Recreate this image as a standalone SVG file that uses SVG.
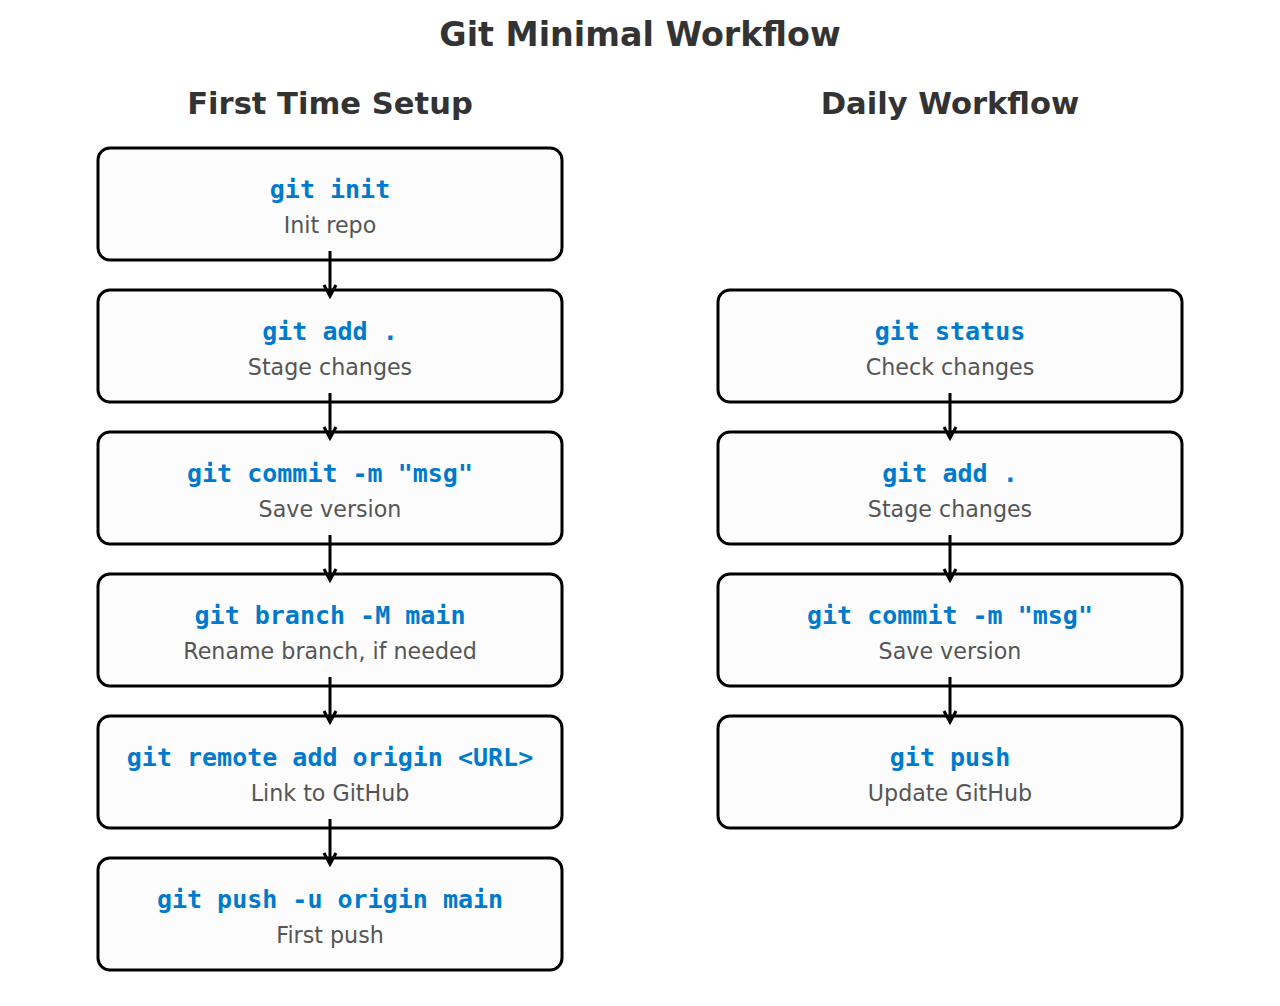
<svg xmlns="http://www.w3.org/2000/svg" width="1280" height="1006" viewBox="0 0 1280 1006">
<style>
.title{font-family:"DejaVu Sans",Verdana,sans-serif;font-weight:bold;fill:#333333;text-anchor:middle}
.box{fill:#fcfcfc;stroke:#000;stroke-width:3}
.cmd{font-family:"DejaVu Sans Mono",monospace;font-weight:bold;font-size:25px;fill:#007acc;text-anchor:middle}
.desc{font-family:"DejaVu Sans",Verdana,sans-serif;font-size:22.2px;fill:#555555;text-anchor:middle}
.arr{stroke:#000;stroke-width:3;fill:none;stroke-linecap:butt}
.head{stroke:#000;stroke-width:3;fill:none;stroke-linejoin:miter}
</style>
<rect width="1280" height="1006" fill="#fff"/>
<text class="title" x="640" y="46" font-size="33.3">Git Minimal Workflow</text>
<text class="title" x="330" y="114" font-size="30.6">First Time Setup</text>
<text class="title" x="950" y="114" font-size="30.6">Daily Workflow</text>
<g id="s1"><rect class="box" x="98" y="148" width="464" height="112" rx="12"/><text class="cmd" x="330" y="198">git init</text><text class="desc" x="330" y="233">Init repo</text></g>
<g id="s2"><rect class="box" x="98" y="290" width="464" height="112" rx="12"/><text class="cmd" x="330" y="340">git add .</text><text class="desc" x="330" y="375">Stage changes</text></g>
<g id="s3"><rect class="box" x="98" y="432" width="464" height="112" rx="12"/><text class="cmd" x="330" y="482">git commit -m "msg"</text><text class="desc" x="330" y="517">Save version</text></g>
<g id="s4"><rect class="box" x="98" y="574" width="464" height="112" rx="12"/><text class="cmd" x="330" y="624">git branch -M main</text><text class="desc" x="330" y="659">Rename branch, if needed</text></g>
<g id="s5"><rect class="box" x="98" y="716" width="464" height="112" rx="12"/><text class="cmd" x="330" y="766">git remote add origin &lt;URL&gt;</text><text class="desc" x="330" y="801">Link to GitHub</text></g>
<g id="s6"><rect class="box" x="98" y="858" width="464" height="112" rx="12"/><text class="cmd" x="330" y="908">git push -u origin main</text><text class="desc" x="330" y="943">First push</text></g>
<g id="d1"><rect class="box" x="718" y="290" width="464" height="112" rx="12"/><text class="cmd" x="950" y="340">git status</text><text class="desc" x="950" y="375">Check changes</text></g>
<g id="d2"><rect class="box" x="718" y="432" width="464" height="112" rx="12"/><text class="cmd" x="950" y="482">git add .</text><text class="desc" x="950" y="517">Stage changes</text></g>
<g id="d3"><rect class="box" x="718" y="574" width="464" height="112" rx="12"/><text class="cmd" x="950" y="624">git commit -m "msg"</text><text class="desc" x="950" y="659">Save version</text></g>
<g id="d4"><rect class="box" x="718" y="716" width="464" height="112" rx="12"/><text class="cmd" x="950" y="766">git push</text><text class="desc" x="950" y="801">Update GitHub</text></g>
<g id="connectors">
<path class="arr" d="M330,251 V296 M324,285 L330,296 L336,285"/>
<path class="arr" d="M330,393 V438 M324,427 L330,438 L336,427"/>
<path class="arr" d="M330,535 V580 M324,569 L330,580 L336,569"/>
<path class="arr" d="M330,677 V722 M324,711 L330,722 L336,711"/>
<path class="arr" d="M330,819 V864 M324,853 L330,864 L336,853"/>
<path class="arr" d="M950,393 V438 M944,427 L950,438 L956,427"/>
<path class="arr" d="M950,535 V580 M944,569 L950,580 L956,569"/>
<path class="arr" d="M950,677 V722 M944,711 L950,722 L956,711"/>
</g>
</svg>
